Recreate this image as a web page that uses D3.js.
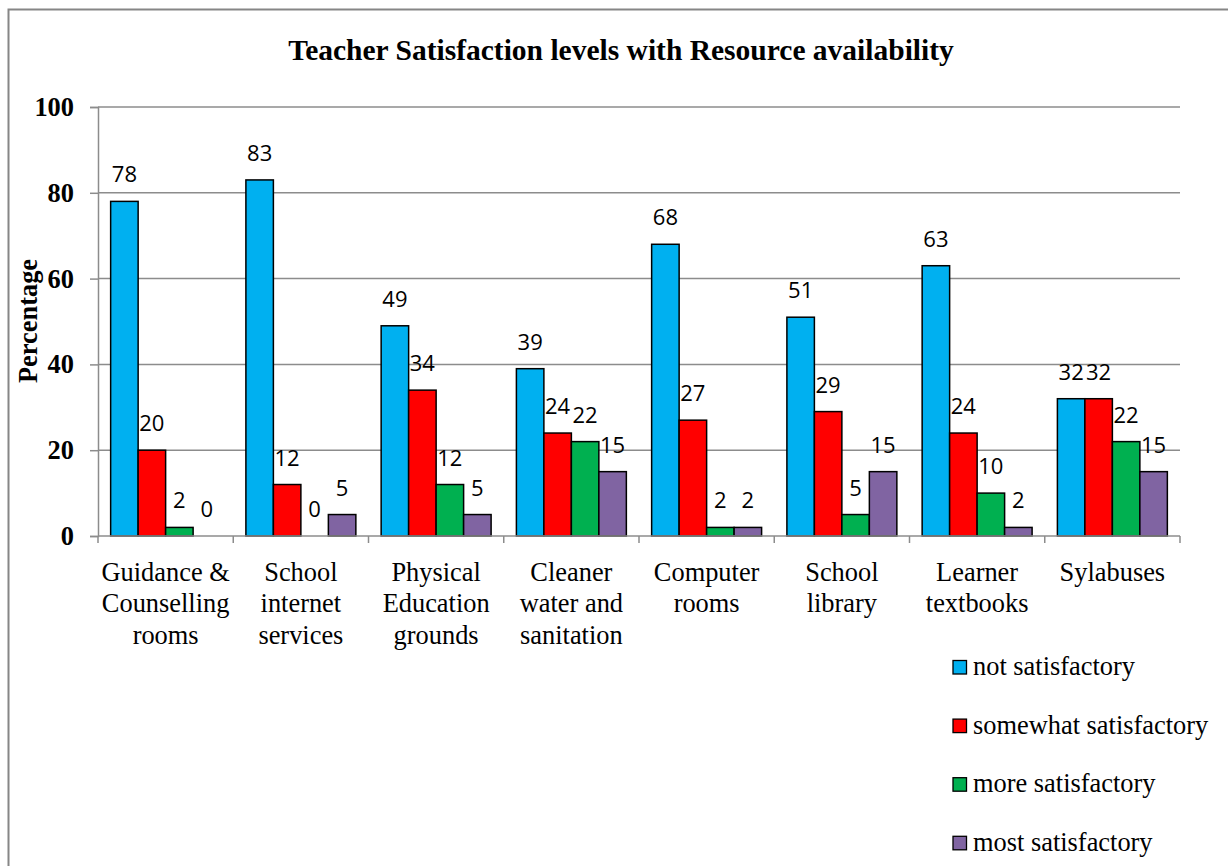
<!DOCTYPE html>
<html>
<head>
<meta charset="utf-8">
<script src="https://cdn.jsdelivr.net/npm/d3@7"></script>
<style>
  html, body { margin: 0; padding: 0; background: #fff; }
  svg { display: block; }
</style>
</head>
<body>
<svg id="chart" width="1228" height="866"></svg>
<script>
// Resource categories (one label line per array entry)
const categories = [
  ["Guidance &", "Counselling", "rooms"],
  ["School", "internet", "services"],
  ["Physical", "Education", "grounds"],
  ["Cleaner", "water and", "sanitation"],
  ["Computer", "rooms"],
  ["School", "library"],
  ["Learner", "textbooks"],
  ["Sylabuses"]
];

const seriesNames = ["not satisfactory", "somewhat satisfactory", "more satisfactory", "most satisfactory"];
const seriesColors = ["#00B0F0", "#FF0000", "#00B050", "#8064A2"];

// Percentages per satisfaction level, in category order
const notSatisfactory      = [78, 83, 49, 39, 68, 51, 63, 32];
const somewhatSatisfactory = [20, 12, 34, 24, 27, 29, 24, 32];
const moreSatisfactory     = [2, 0, 12, 22, 2, 5, 10, 22];
const mostSatisfactory     = [0, 5, 5, 15, 2, 15, 2, 15];

const yTicks = [0, 20, 40, 60, 80, 100];

const seriesValues = [notSatisfactory, somewhatSatisfactory, moreSatisfactory, mostSatisfactory];
const catKeys = categories.map(c => c.join(" "));

const svg = d3.select("#chart");
const plot = { left: 98, right: 1180, top: 107, bottom: 536 };

// outer frame
svg.append("rect")
  .attr("x", 8.5).attr("y", 9.5)
  .attr("width", 1400).attr("height", 1000)
  .attr("fill", "none").attr("stroke", "#868686").attr("stroke-width", 2);

// title
svg.append("text")
  .attr("x", 621).attr("y", 60)
  .attr("text-anchor", "middle")
  .style("font-family", "'Liberation Serif', 'Times New Roman', serif")
  .style("font-weight", "bold")
  .style("font-size", "29.5px")
  .text("Teacher Satisfaction levels with Resource availability");

const y = d3.scaleLinear().domain([0, 100]).range([plot.bottom, plot.top]);
const x0 = d3.scaleBand().domain(catKeys).range([plot.left, plot.right])
  .paddingInner(0.187).paddingOuter(0.0935);
const x1 = d3.scaleBand().domain(seriesNames).range([0, x0.bandwidth()]).padding(0);

// horizontal gridlines
svg.append("g").selectAll("line")
  .data(yTicks.filter(t => t > 0))
  .join("line")
  .attr("x1", plot.left).attr("x2", plot.right)
  .attr("y1", d => y(d)).attr("y2", d => y(d))
  .attr("stroke", "#8c8c8c").attr("stroke-width", 1.5);

// y axis
const yAxis = d3.axisLeft(y).tickValues(yTicks).tickSize(8).tickPadding(16);
const gy = svg.append("g").attr("transform", `translate(${plot.left},0)`).call(yAxis);
gy.select(".domain").attr("stroke", "#8c8c8c").attr("stroke-width", 1.5);
gy.selectAll(".tick line").attr("stroke", "#8c8c8c").attr("stroke-width", 1.5);
gy.selectAll(".tick text")
  .style("font-family", "'Liberation Serif', 'Times New Roman', serif")
  .style("font-weight", "bold")
  .style("font-size", "26.4px")
  .attr("fill", "#000");

// y axis title
svg.append("text")
  .attr("transform", "translate(37,321) rotate(-90)")
  .attr("text-anchor", "middle")
  .style("font-family", "'Liberation Serif', 'Times New Roman', serif")
  .style("font-weight", "bold")
  .style("font-size", "26.4px")
  .text("Percentage");

// bars
const groups = svg.append("g").selectAll("g")
  .data(catKeys)
  .join("g")
  .attr("transform", d => `translate(${x0(d)},0)`);

groups.each(function(key, ci) {
  const g = d3.select(this);
  const rows = seriesNames.map((s, si) => ({ s, si, v: seriesValues[si][ci] }));
  g.selectAll("rect")
    .data(rows)
    .join("rect")
    .attr("x", d => x1(d.s))
    .attr("y", d => y(d.v))
    .attr("width", x1.bandwidth())
    .attr("height", d => y(0) - y(d.v))
    .attr("fill", d => seriesColors[d.si])
    .attr("stroke", d => d.v > 0 ? "#000" : "none")
    .attr("stroke-width", 1.5);
  g.selectAll("text")
    .data(rows)
    .join("text")
    .attr("x", d => x1(d.s) + x1.bandwidth() / 2)
    .attr("y", d => y(d.v) - 19)
    .attr("text-anchor", "middle")
    .style("font-family", "'Open Sans', 'Noto Sans', sans-serif")
    .style("font-size", "22px")
    .attr("fill", "#000")
    .text(d => d3.format("d")(d.v));
});

// x axis line and category separators
const xAxis = svg.append("g");
xAxis.append("line")
  .attr("x1", plot.left).attr("x2", plot.right)
  .attr("y1", y(0)).attr("y2", y(0))
  .attr("stroke", "#8c8c8c").attr("stroke-width", 1.5);
const step = x0.step();
xAxis.selectAll("line.sep")
  .data(d3.range(catKeys.length + 1))
  .join("line")
  .attr("class", "sep")
  .attr("x1", i => x0(catKeys[0]) - x0.paddingOuter() * step + i * step)
  .attr("x2", i => x0(catKeys[0]) - x0.paddingOuter() * step + i * step)
  .attr("y1", y(0)).attr("y2", y(0) + 7)
  .attr("stroke", "#8c8c8c").attr("stroke-width", 1.5);

// category labels
const catLabels = svg.append("g").selectAll("text")
  .data(categories)
  .join("text")
  .attr("text-anchor", "middle")
  .style("font-family", "'Liberation Serif', 'Times New Roman', serif")
  .style("font-size", "26.4px")
  .attr("fill", "#000");
catLabels.each(function(lines, i) {
  const cx = x0(catKeys[i]) + x0.bandwidth() / 2;
  d3.select(this).selectAll("tspan")
    .data(lines)
    .join("tspan")
    .attr("x", cx)
    .attr("y", (d, j) => 580.5 + j * 31.8)
    .text(d => d);
});

// legend
const legend = svg.append("g").selectAll("g")
  .data(seriesNames)
  .join("g")
  .attr("transform", (d, i) => `translate(953,${675 + i * 58.6})`);
legend.append("rect")
  .attr("x", 0).attr("y", -14.5)
  .attr("width", 13.5).attr("height", 13.5)
  .attr("fill", (d, i) => seriesColors[i])
  .attr("stroke", "#000").attr("stroke-width", 1.3);
legend.append("text")
  .attr("x", 20).attr("y", 0)
  .style("font-family", "'Liberation Serif', 'Times New Roman', serif")
  .style("font-size", "26.4px")
  .attr("fill", "#000")
  .text(d => d);
</script>
</body>
</html>
